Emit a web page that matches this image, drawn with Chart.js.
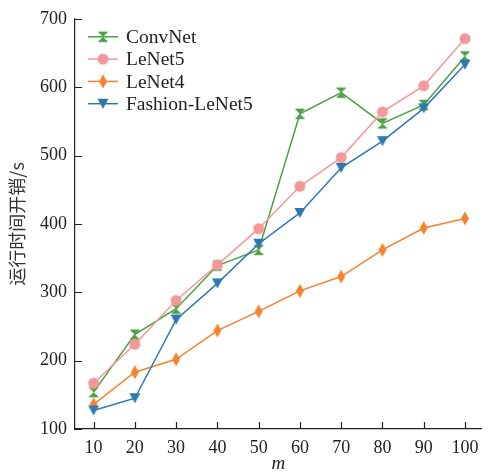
<!DOCTYPE html>
<html>
<head>
<meta charset="utf-8">
<script src="https://cdn.jsdelivr.net/npm/chart.js@4/dist/chart.umd.min.js"></script>
<style>
  html, body { margin: 0; padding: 0; background: #fff; }
  #wrap { width: 489px; height: 475px; }
</style>
</head>
<body>
<div id="wrap"><canvas id="runChart" width="489" height="475"></canvas></div>
<script>
// datos
const mValues = [10, 20, 30, 40, 50, 60, 70, 80, 90, 100];
const convNet = [154, 238, 276, 339, 362, 561, 592, 547, 574, 645];
const leNet5 = [167, 224, 288, 340, 393, 455, 497, 564, 602, 671];
const leNet4 = [136, 183, 202, 244, 272, 302, 323, 362, 394, 408];
const fashionLeNet5 = [127, 145, 260, 313, 371, 416, 482, 521, 569, 633];
const yTicks = [100, 200, 300, 400, 500, 600, 700];

const serif = "'Liberation Serif', 'DejaVu Serif', serif";

// marcadores dibujados a mano
function makeMarker(kind, color) {
  const c = document.createElement("canvas");
  c.width = 16;
  c.height = 16;
  const g = c.getContext("2d");
  g.fillStyle = color;
  g.strokeStyle = color;
  g.beginPath();
  if (kind === "hourglass") {
    g.moveTo(3.5, 3.5); g.lineTo(12.5, 3.5); g.lineTo(8, 8); g.closePath();
    g.moveTo(3.5, 12.5); g.lineTo(12.5, 12.5); g.lineTo(8, 8); g.closePath();
    g.fill();
    g.lineWidth = 1.5;
    g.beginPath();
    g.moveTo(3.5, 3.5); g.lineTo(12.5, 3.5);
    g.moveTo(3.5, 12.5); g.lineTo(12.5, 12.5);
    g.stroke();
  } else if (kind === "circle") {
    g.arc(8, 8, 5.5, 0, Math.PI * 2);
    g.fill();
  } else if (kind === "diamond") {
    g.moveTo(8, 1); g.lineTo(12, 8); g.lineTo(8, 15); g.lineTo(4, 8); g.closePath();
    g.fill();
  } else if (kind === "tridown") {
    g.moveTo(2.5, 3); g.lineTo(13.5, 3); g.lineTo(8, 13); g.closePath();
    g.fill();
  }
  return c;
}

const seriesInfo = [
  { label: "ConvNet", data: convNet, color: "#4c9f45", marker: "hourglass", order: 4 },
  { label: "LeNet5", data: leNet5, color: "#f4979a", marker: "circle", order: 3 },
  { label: "LeNet4", data: leNet4, color: "#f5822f", marker: "diamond", order: 2 },
  { label: "Fashion-LeNet5", data: fashionLeNet5, color: "#2f77b1", marker: "tridown", order: 1 },
];

seriesInfo.forEach((s) => { s.img = makeMarker(s.marker, s.color); });

// ticks hacia dentro y leyenda dentro del área
const extrasPlugin = {
  id: "extras",
  afterDraw(chart) {
    const ctx = chart.ctx;
    const xs = chart.scales.x;
    const ys = chart.scales.y;
    const area = chart.chartArea;
    ctx.save();
    ctx.strokeStyle = "#222";
    ctx.lineWidth = 1.2;
    ctx.beginPath();
    mValues.forEach((v) => {
      const px = Math.round(xs.getPixelForValue(v)) + 0.5;
      ctx.moveTo(px, area.bottom);
      ctx.lineTo(px, area.bottom - 7);
    });
    yTicks.forEach((v) => {
      const py = Math.round(ys.getPixelForValue(v)) + 0.5;
      ctx.moveTo(area.left, py);
      ctx.lineTo(area.left + 7, py);
    });
    ctx.stroke();

    // leyenda
    ctx.font = "19.5px " + serif;
    ctx.textBaseline = "middle";
    ctx.textAlign = "left";
    seriesInfo.forEach((s, i) => {
      const y = area.top + 18 + i * 22.3;
      ctx.strokeStyle = s.color;
      ctx.lineWidth = 1.5;
      ctx.beginPath();
      ctx.moveTo(area.left + 13, y);
      ctx.lineTo(area.left + 43, y);
      ctx.stroke();
      ctx.drawImage(s.img, area.left + 28 - 8, y - 8);
      ctx.fillStyle = "#222";
      ctx.fillText(s.label, area.left + 51, y + 1);
    });
    ctx.restore();
  },
};

const ctx = document.getElementById("runChart").getContext("2d");

new Chart(ctx, {
  type: "line",
  data: {
    datasets: seriesInfo.map((s) => ({
      label: s.label,
      data: mValues.map((m, i) => ({ x: m, y: s.data[i] })),
      borderColor: s.color,
      backgroundColor: s.color,
      borderWidth: 1.5,
      pointStyle: s.img,
      pointRadius: 6,
      pointHoverRadius: 6,
      order: s.order,
      tension: 0,
    })),
  },
  options: {
    responsive: false,
    animation: false,
    layout: { padding: { top: 17, right: 0, left: 0, bottom: 0 } },
    plugins: {
      legend: { display: false },
      tooltip: { enabled: false },
    },
    scales: {
      x: {
        type: "linear",
        min: 5.5,
        max: 104,
        afterBuildTicks: (axis) => {
          axis.ticks = mValues.map((v) => ({ value: v }));
        },
        afterFit: (axis) => { axis.height = 46; },
        grid: { display: false, drawTicks: false },
        border: { display: true, color: "#222", width: 1.2 },
        ticks: {
          padding: 8,
          color: "#222",
          font: { family: serif, size: 18 },
          maxRotation: 0,
          autoSkip: false,
        },
        title: {
          display: true,
          text: "m",
          color: "#222",
          padding: { top: 0, bottom: 0 },
          font: { family: serif, size: 19, style: "italic" },
        },
      },
      y: {
        min: 100,
        max: 700,
        afterBuildTicks: (axis) => {
          axis.ticks = yTicks.map((v) => ({ value: v }));
        },
        afterFit: (axis) => { axis.width = 75; },
        grid: { display: false, drawTicks: false },
        border: { display: true, color: "#222", width: 1.2 },
        ticks: {
          padding: 8,
          color: "#222",
          font: { family: serif, size: 18 },
        },
        title: {
          display: true,
          text: "运行时间开销/s",
          color: "#333",
          padding: { top: 6, bottom: 0 },
          font: { family: "'Noto Sans CJK SC', sans-serif", size: 18 },
        },
      },
    },
  },
  plugins: [extrasPlugin],
});
</script>
</body>
</html>
